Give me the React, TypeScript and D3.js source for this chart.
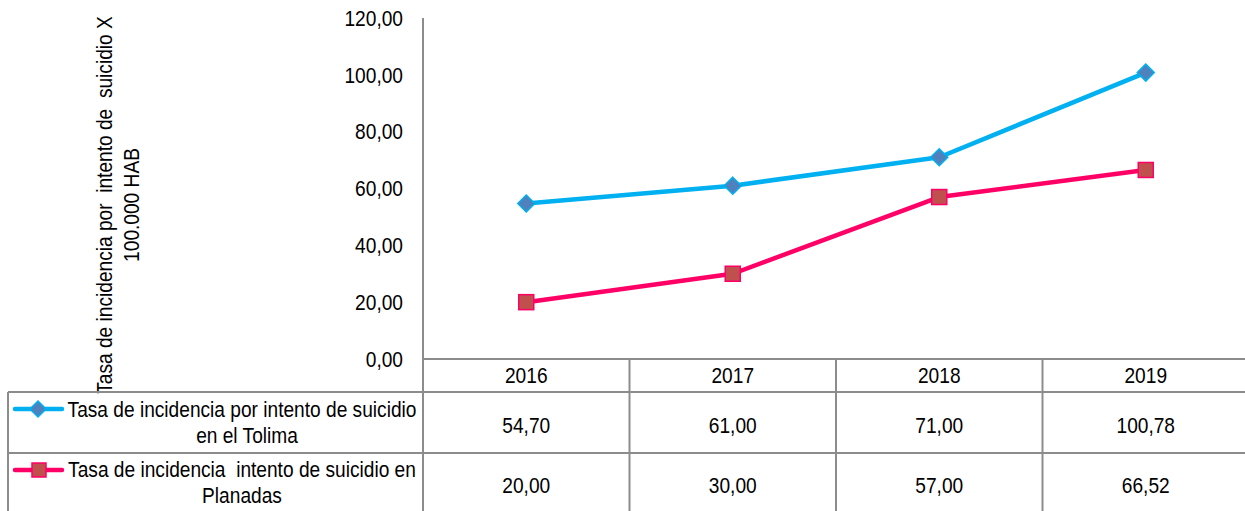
import React from "react";
import * as d3 from "d3";

const years = ["2016", "2017", "2018", "2019"];
const tolima = [54.7, 61.0, 71.0, 100.78];
const planadas = [20.0, 30.0, 57.0, 66.52];
const yTicks = [0, 20, 40, 60, 80, 100, 120];
const seriesNames = [
  ["Tasa de incidencia por intento de suicidio", "en el Tolima"],
  ["Tasa de incidencia  intento de suicidio en", "Planadas"],
];
const yTitle = ["Tasa de incidencia por  intento de  suicidio X", "100.000 HAB"];

const W = 1245;
const H = 511;
const FONT = "'Liberation Sans', Arial, sans-serif";
const FS = 22;
const SX = 0.87;
const GRID = "#8c8c8c";
const BLUE = "#00B0F0";
const BLUE_FILL = "#4F81BD";
const PINK = "#FF0066";
const PINK_FILL = "#C0504D";

const fmt = (v: number) => v.toFixed(2).replace(".", ",");

function NText(props: {
  x: number;
  y: number;
  anchor?: "start" | "middle" | "end";
  dy?: string;
  children: React.ReactNode;
}) {
  return (
    <text
      transform={`translate(${props.x},${props.y}) scale(${SX},1)`}
      textAnchor={props.anchor || "middle"}
      dy={props.dy}
      fontSize={FS}
      fill="#000"
      style={{ whiteSpace: "pre" }}
    >
      {props.children}
    </text>
  );
}

export default function App() {
  const axisX = 423;
  const colW = 206.5;
  const x = d3.scaleBand<string>().domain(years).range([axisX, axisX + colW * years.length]);
  const y = d3.scaleLinear().domain([0, 120]).range([359, 18]);
  const cx = (yr: string) => (x(yr) as number) + x.bandwidth() / 2;

  const line = d3
    .line<[string, number]>()
    .x((d) => cx(d[0]))
    .y((d) => y(d[1]));

  const tData = years.map((yr, i) => [yr, tolima[i]] as [string, number]);
  const pData = years.map((yr, i) => [yr, planadas[i]] as [string, number]);

  const headerTop = y(0);
  const headerBot = 392;
  const row1Bot = 453;
  const legendLeft = 8;

  const diamond = (px: number, py: number, r: number) =>
    `M${px},${py - r}L${px + r},${py}L${px},${py + r}L${px - r},${py}Z`;

  const textCenter = 242;

  return (
    <svg width={W} height={H} style={{ position: "absolute", left: 0, top: 0 }} fontFamily={FONT}>
      <rect x={0} y={0} width={W} height={H} fill="#fff" />
      {/* Y axis title */}
      <g transform={`translate(112,205) rotate(-90)`}>
        {yTitle.map((t, i) => (
          <NText key={i} x={0} y={i * 27}>
            {t}
          </NText>
        ))}
      </g>
      {/* Y tick labels */}
      {yTicks.map((t) => (
        <NText key={t} x={403} y={y(t)} dy="0.35em" anchor="end">
          {fmt(t)}
        </NText>
      ))}
      {/* table lines */}
      <g stroke={GRID} strokeWidth={2} fill="none">
        <line x1={axisX} y1={y(120)} x2={axisX} y2={H} />
        <line x1={axisX} y1={headerTop} x2={W} y2={headerTop} />
        <line x1={legendLeft} y1={headerBot} x2={W} y2={headerBot} />
        <line x1={legendLeft} y1={row1Bot} x2={W} y2={row1Bot} />
        <line x1={legendLeft} y1={headerBot} x2={legendLeft} y2={H} />
        {years.slice(1).map((yr) => (
          <line key={yr} x1={x(yr)} y1={headerTop} x2={x(yr)} y2={H} />
        ))}
      </g>
      {/* header */}
      {years.map((yr) => (
        <NText key={yr} x={cx(yr)} y={383}>
          {yr}
        </NText>
      ))}
      {/* values */}
      {years.map((yr, i) => (
        <NText key={"t" + yr} x={cx(yr)} y={433}>
          {fmt(tolima[i])}
        </NText>
      ))}
      {years.map((yr, i) => (
        <NText key={"p" + yr} x={cx(yr)} y={493}>
          {fmt(planadas[i])}
        </NText>
      ))}
      {/* legend */}
      <g>
        <line x1={15} y1={409} x2={62} y2={409} stroke={BLUE} strokeWidth={4.5} strokeLinecap="round" />
        <path d={diamond(38, 409, 8)} fill={BLUE_FILL} stroke={BLUE} strokeWidth={1.5} />
        {seriesNames[0].map((t, i) => (
          <NText key={i} x={textCenter + i * 5} y={417 + i * 26}>
            {t}
          </NText>
        ))}
        <line x1={15} y1={470} x2={62} y2={470} stroke={PINK} strokeWidth={4.5} strokeLinecap="round" />
        <rect x={32} y={463} width={14} height={14} fill={PINK_FILL} stroke={PINK} strokeWidth={1.5} />
        {seriesNames[1].map((t, i) => (
          <NText key={i} x={textCenter} y={477 + i * 26}>
            {t}
          </NText>
        ))}
      </g>
      {/* lines */}
      <path d={line(tData) as string} fill="none" stroke={BLUE} strokeWidth={4.5} strokeLinejoin="round" />
      <path d={line(pData) as string} fill="none" stroke={PINK} strokeWidth={4.5} strokeLinejoin="round" />
      {tData.map((d) => (
        <path key={d[0]} d={diamond(cx(d[0]), y(d[1]), 8.5)} fill={BLUE_FILL} stroke={BLUE} strokeWidth={1.5} />
      ))}
      {pData.map((d) => (
        <rect
          key={d[0]}
          x={cx(d[0]) - 7.5}
          y={y(d[1]) - 7.5}
          width={15}
          height={15}
          fill={PINK_FILL}
          stroke={PINK}
          strokeWidth={1.5}
        />
      ))}
    </svg>
  );
}
